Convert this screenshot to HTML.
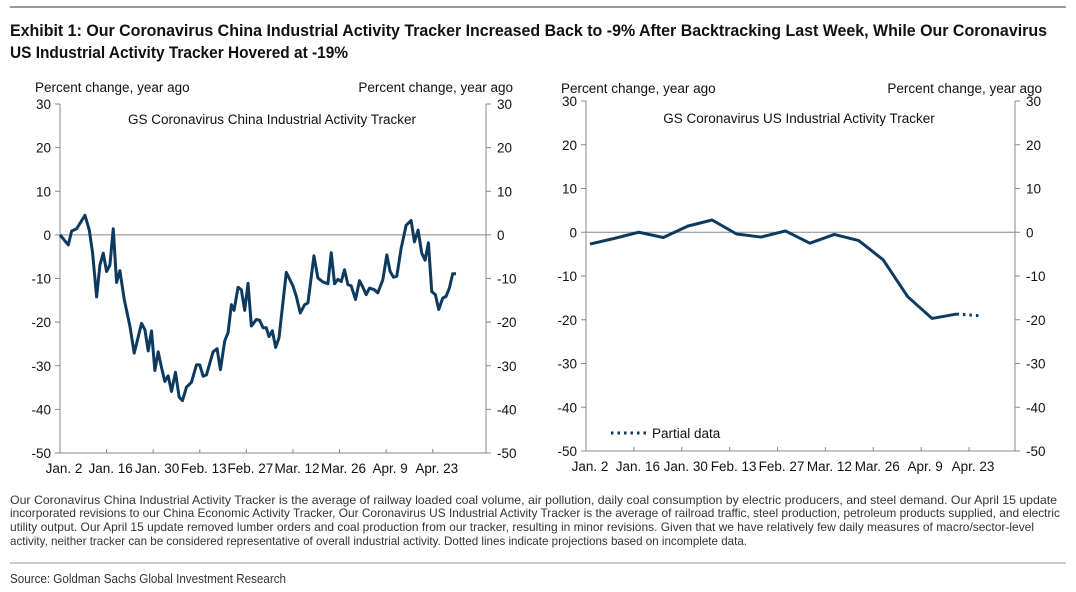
<!DOCTYPE html>
<html><head><meta charset="utf-8"><style>
html,body{margin:0;padding:0;background:#fff;width:1076px;height:592px;overflow:hidden}
svg{display:block;font-family:"Liberation Sans",Arial,sans-serif}
.t{font-size:13.5px;fill:#111}
.n{font-family:"Liberation Sans Narrow","Liberation Sans",sans-serif}
</style></head><body>
<svg id="s" width="1076" height="592" xmlns="http://www.w3.org/2000/svg">
<line x1="10" y1="7" x2="1066" y2="7" stroke="#999" stroke-width="2"/>
<text class="n" x="10" y="36" font-size="17" font-weight="bold" fill="#111" textLength="1037" lengthAdjust="spacingAndGlyphs">Exhibit 1: Our Coronavirus China Industrial Activity Tracker Increased Back to -9% After Backtracking Last Week, While Our Coronavirus</text>
<text class="n" x="10" y="58" font-size="17" font-weight="bold" fill="#111" textLength="338" lengthAdjust="spacingAndGlyphs">US Industrial Activity Tracker Hovered at -19%</text>
<g id="left"></g>
<g id="right"></g>
<g class="n" font-size="12" fill="#333">
<text x="10" y="504" textLength="1047" lengthAdjust="spacingAndGlyphs">Our Coronavirus China Industrial Activity Tracker is the average of railway loaded coal volume, air pollution, daily coal consumption by electric producers, and steel demand. Our April 15 update</text>
<text x="10" y="517" textLength="1050" lengthAdjust="spacingAndGlyphs">incorporated revisions to our China Economic Activity Tracker, Our Coronavirus US Industrial Activity Tracker is the average of railroad traffic, steel production, petroleum products supplied, and electric</text>
<text x="10" y="531" textLength="1024" lengthAdjust="spacingAndGlyphs">utility output. Our April 15 update removed lumber orders and coal production from our tracker, resulting in minor revisions. Given that we have relatively few daily measures of macro/sector-level</text>
<text x="10" y="545" textLength="737" lengthAdjust="spacingAndGlyphs">activity, neither tracker can be considered representative of overall industrial activity. Dotted lines indicate projections based on incomplete data.</text>
</g>
<line x1="10" y1="563" x2="1066" y2="563" stroke="#999" stroke-width="1"/>
<text class="n" x="10" y="583" font-size="12.5" fill="#333" textLength="276" lengthAdjust="spacingAndGlyphs">Source: Goldman Sachs Global Investment Research</text>
</svg>
<script>
const xLabels=["Jan. 2","Jan. 16","Jan. 30","Feb. 13","Feb. 27","Mar. 12","Mar. 26","Apr. 9","Apr. 23"];
const yTicks=[30,20,10,0,-10,-20,-30,-40,-50];
const chinaDays=[0,2.5,3.5,5,7.5,8.8,9.8,11,12,13,14,15,16,17,18,19.3,21,22.3,24.5,25.5,26.5,27.5,28.5,29.5,30.5,31.5,32.5,33.5,34.7,35.8,36.8,38,39.5,41,42,43,44,46,47.2,48.2,49.5,50.5,51.5,52.3,53.5,54.5,55.5,56.5,57.5,59,60,61,62,62.8,63.8,64.8,65.8,68,70,71,72.2,73.5,74.5,76.3,77.5,79,80.5,81.5,82.5,83.5,84.5,85.5,86.5,87.5,88.8,90,91,92,93,94.5,95.5,97,98.2,99.2,100.2,101.2,102.5,104,105.5,106.5,107.6,108.7,109.7,110.7,111.7,112.8,113.8,115,116,117,118,119];
const chinaValues=[0,-2.3,0.9,1.4,4.5,1.1,-4.2,-14.2,-6.9,-4.2,-8.4,-6.9,1.4,-10.9,-8.2,-14.8,-20.9,-27.1,-20.3,-21.7,-26.6,-22,-31.1,-26.8,-30.4,-33.6,-32.3,-35.9,-31.5,-37.2,-38,-34.9,-33.8,-29.8,-29.8,-32.4,-32.1,-26.8,-26.1,-30.9,-24.3,-22.4,-16,-17.3,-12,-12.6,-17.3,-11.1,-20.9,-19.4,-19.6,-21.3,-21.3,-23.3,-22,-25.8,-23.6,-8.6,-11.7,-14.1,-17.9,-16,-15.6,-4.8,-9.9,-10.8,-11.2,-4.1,-11.2,-10.2,-10.7,-8,-11.4,-11.7,-14.8,-10.5,-12,-13.7,-12.2,-12.6,-13.3,-10.3,-4.6,-8.4,-9.7,-9.5,-3.1,2.2,3.3,-1.6,1.1,-4.2,-5.8,-1.8,-13,-13.7,-17.1,-14.5,-14.1,-12.2,-8.9,-8.9];
const usWeeks=[0,7,14,21,28,35,42,49,56,63,70,77,84,91,98,105];
const usValues=[-2.7,-1.4,0,-1.2,1.4,2.8,-0.4,-1.1,0.3,-2.5,-0.5,-1.9,-6.3,-14.7,-19.7,-18.7];
const usPartialDays=[105,112];
const usPartialValues=[-18.7,-19.1];

const NS="http://www.w3.org/2000/svg";
function mk(p,tag,a){const e=document.createElementNS(NS,tag);for(const k in a)e.setAttribute(k,a[k]);p.appendChild(e);return e;}
function chart(g,cfg){
  const x=d=>cfg.xs+d*cfg.px;
  const y=v=>cfg.yTop+(30-v)*(cfg.yBot-cfg.yTop)/80;
  let e;
  e=mk(g,'line',{x1:cfg.x0,y1:cfg.yTop,x2:cfg.x0,y2:cfg.yBot,stroke:'#888'});
  
  e=mk(g,'line',{x1:cfg.xR,y1:cfg.yTop,x2:cfg.xR,y2:cfg.yBot,stroke:'#888'});
  
  e=mk(g,'line',{x1:cfg.x0,y1:cfg.yBot,x2:cfg.xR,y2:cfg.yBot,stroke:'#888'});
  
  e=mk(g,'line',{x1:cfg.x0,y1:y(0),x2:cfg.xR,y2:y(0),stroke:'#888'});
  
  yTicks.forEach(v=>{
    mk(g,'line',{x1:cfg.x0-5,y1:y(v),x2:cfg.x0,y2:y(v),stroke:'#888'});
    mk(g,'line',{x1:cfg.xR,y1:y(v),x2:cfg.xR+5,y2:y(v),stroke:'#888'});
    e=mk(g,'text',{x:cfg.x0-9,y:y(v)+5,'text-anchor':'end','class':'t'});e.textContent=v;
    
    e=mk(g,'text',{x:cfg.xR+11,y:y(v)+5,'class':'t'});e.textContent=v;
    
  });
  xLabels.forEach((l,i)=>{
    const d=i*14;
    const lx=cfg.x0+d*cfg.lpx;
    if(i>0)mk(g,'line',{x1:lx,y1:cfg.yBot-4,x2:lx,y2:cfg.yBot,stroke:'#888'});
    e=mk(g,'text',{x:lx+4,y:cfg.yBot+20,'text-anchor':'middle','class':'t'});e.textContent=l;
    
  });
  e=mk(g,'text',{x:cfg.x0-25,y:cfg.yTop-cfg.ah,'class':'t'});e.textContent='Percent change, year ago';
  
  e=mk(g,'text',{x:cfg.xR+27,y:cfg.yTop-cfg.ah,'class':'t','text-anchor':'end'});e.textContent='Percent change, year ago';
  
  e=mk(g,'text',{x:cfg.tx,y:cfg.yTop+cfg.th,'class':'t','text-anchor':'middle'});e.textContent=cfg.title;
  
  e=mk(g,'polyline',{points:cfg.days.map((d,i)=>x(d)+','+y(cfg.vals[i])).join(' '),fill:'none',stroke:'#0d3a5e','stroke-width':3,'stroke-linejoin':'round'});
  
  return {x,y};
}
chart(document.getElementById('left'),{x0:60,xs:60,xR:486,px:3.328,lpx:3.328,yTop:104,yBot:453,tx:272,ah:12,th:20,title:'GS Coronavirus China Industrial Activity Tracker',days:chinaDays,vals:chinaValues});
const R=document.getElementById('right');
const sc=chart(R,{x0:586,xs:590,xR:1015,px:3.49,lpx:3.42,yTop:101,yBot:451,tx:799,ah:8,th:22,title:'GS Coronavirus US Industrial Activity Tracker',days:usWeeks,vals:usValues});
let p=mk(R,'polyline',{points:usPartialDays.map((d,i)=>sc.x(d)+','+sc.y(usPartialValues[i])).join(' '),fill:'none',stroke:'#0d3a5e','stroke-width':3,'stroke-dasharray':'2.5 4'});


let lg=mk(R,'line',{x1:611,y1:433,x2:646,y2:433,stroke:'#0d3a5e','stroke-width':3,'stroke-dasharray':'2.5 4'});


let lt=mk(R,'text',{x:652,y:438,'class':'t'});lt.textContent='Partial data';


</script>
</body></html>
